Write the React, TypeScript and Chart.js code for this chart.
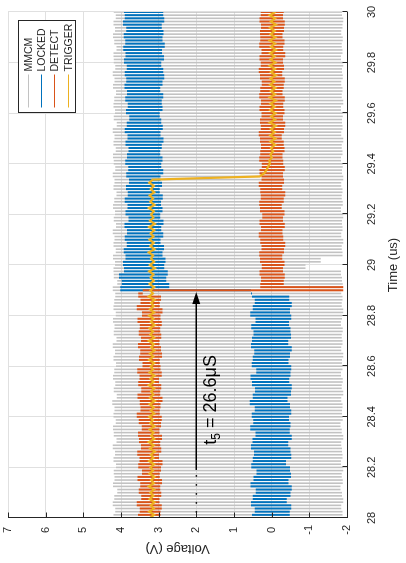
import React, { useEffect, useRef } from "react";
import { Chart, registerables } from "chart.js";
Chart.register(...registerables);

// Sampling grid of the scope capture (time in microseconds)
const SAMPLE_START = 28;
const SAMPLE_STEP = 0.0125;

const mmcm = [
  4.2, -1.88, 4.15, -1.85, 4.22, -1.9, 4.18, -1.87, 4.1, -1.83,
  4.21, -1.89, 4.17, -1.86, 4.19, -1.9, 4.13, -1.84, 4.2, -1.88,
  4.16, -1.87, 4.22, -1.85, 4.12, -1.9, 4.19, -1.86, 4.21, -1.83,
  4.14, -1.89, 4.2, -1.87, 4.17, -1.88, 4.23, -1.85, 4.11, -1.9,
  4.19, -1.86, 4.15, -1.89, 4.21, -1.84, 4.18, -1.88, 4.13, -1.87,
  4.2, -1.9, 4.16, -1.85, 4.22, -1.88, 4.12, -1.86, 4.19, -1.89,
  4.17, -1.84, 4.21, -1.87, 4.14, -1.9, 4.2, -1.86, 4.18, -1.88,
  4.15, -1.85, 4.22, -1.89, 4.1, -1.87, 4.19, -1.84, 4.2, -0.9,
  4.16, -1.3, 4.21, -1.88, 4.14, -1.86, 4.2, -1.9, 4.17, -1.85,
  4.22, -1.88, 4.13, -1.87, 4.19, -1.9, 4.16, -1.84, 4.21, -1.89,
  4.18, -1.86, 4.12, -1.88, 4.2, -1.85, 4.17, -1.9, 4.22, -1.87,
  4.15, -1.89, 4.19, -1.84, 4.21, -1.88, 4.14, -1.86, 4.2, -1.9,
  4.17, -1.85, 4.22, -1.88, 4.11, -1.87, 4.19, -1.89, 4.16, -1.84,
  4.2, -1.9, 4.18, -1.86, 4.13, -1.88, 4.21, -1.85, 4.17, -1.89,
  4.22, -1.87, 4.15, -1.9, 4.19, -1.84, 4.2, -1.88, 4.12, -1.86,
  4.18, -1.89, 4.21, -1.85, 4.16, -1.88, 4.2, -1.9, 4.14, -1.87,
  4.19,
];

const locked = [
  0.52, -0.48, 0.45, -0.52, 0.55, -0.4, 0.5, -0.5, 0.42, -0.53,
  0.56, -0.45, 0.48, -0.51, 0.4, -0.49, 0.54, -0.38, 0.5, -0.52,
  0.47, -0.5, 0.55, -0.44, 0.51, -0.53, 0.43, -0.48, 0.57, -0.5,
  0.49, -0.46, 0.53, -0.52, 0.45, -0.49, 0.58, -0.42, 0.5, -0.51,
  0.44, -0.53, 0.52, -0.47, 0.56, -0.5, 0.41, -0.52, 0.53, -0.45,
  0.5, -0.49, 0.46, -0.53, 0.55, -0.44, 0.52, -0.51, 0.48, -0.5,
  0.54, -0.46, 0.43, -0.52, 0.57, -0.49, 0.5, -0.53, 0.45, -0.47,
  0.52, 0.55, 4.02, 2.72, 3.98, 2.8, 4.05, 2.76, 3.92, 2.85,
  3.95, 2.82, 3.88, 2.9, 3.93, 2.86, 3.85, 2.95, 3.9, 2.88,
  3.84, 2.93, 3.91, 2.87, 3.8, 2.96, 3.88, 2.9, 3.83, 2.94,
  3.9, 2.89, 3.82, 2.97, 3.87, 2.91, 3.79, 2.95, 3.86, 2.88,
  3.81, 2.93, 3.89, 2.9, 3.84, 2.96, 3.8, 2.92, 3.88, 2.87,
  3.83, 2.95, 3.9, 2.89, 3.85, 2.93, 3.78, 2.97, 3.87, 2.9,
  3.82, 2.92, 3.89, 2.88, 3.84, 2.96, 3.91, 2.9, 3.86, 2.85,
  3.9, 2.88, 3.85, 2.93, 3.92, 2.86, 3.88, 2.91, 3.94, 2.84,
  3.89, 2.9, 3.93, 2.87, 3.86, 2.92, 3.95, 2.85, 3.9, 2.88,
  3.92,
];

const detect = [
  3.55, 2.95, 3.5, 2.92, 3.58, 2.98, 3.46, 2.93, 3.53, 2.96,
  3.49, 2.91, 3.56, 2.97, 3.44, 2.94, 3.54, 2.9, 3.51, 2.99,
  3.57, 2.93, 3.47, 2.96, 3.52, 2.91, 3.55, 2.98, 3.45, 2.94,
  3.53, 2.92, 3.58, 2.97, 3.48, 2.95, 3.5, 2.9, 3.56, 2.96,
  3.46, 2.93, 3.54, 2.99, 3.51, 2.92, 3.57, 2.95, 3.43, 2.97,
  3.52, 2.91, 3.49, 2.94, 3.55, 2.98, 3.47, 2.93, 3.53, 2.96,
  3.5, 2.92, 3.56, 2.95, 3.44, 2.9, 3.58, 2.97, 3.48, 2.94,
  3.54, 3.42, -1.9, 0.3, -0.32, 0.28, -0.35, 0.32, -0.3, 0.26,
  -0.34, 0.31, -0.28, 0.33, -0.33, 0.27, -0.36, 0.3, -0.31, 0.34,
  -0.29, 0.28, -0.35, 0.32, -0.3, 0.25, -0.34, 0.31, -0.27, 0.33,
  -0.32, 0.29, -0.36, 0.3, -0.28, 0.34, -0.33, 0.27, -0.3, 0.32,
  -0.35, 0.26, -0.31, 0.33, -0.29, 0.3, -0.34, 0.28, -0.32, 0.31,
  -0.27, 0.34, -0.33, 0.29, -0.36, 0.31, -0.3, 0.27, -0.34, 0.32,
  -0.31, 0.28, -0.35, 0.33, -0.29, 0.3, -0.32, 0.26, -0.35, 0.31,
  -0.28, 0.34, -0.33, 0.29, -0.3, 0.32, -0.36, 0.27, -0.31, 0.33,
  -0.34, 0.3, -0.29, 0.31, -0.33, 0.28, -0.35, 0.32, -0.3, 0.29,
  -0.32,
];

const trigger = [
  3.23, 3.12, 3.25, 3.13, 3.21, 3.11, 3.24, 3.14, 3.22, 3.12,
  3.26, 3.13, 3.2, 3.11, 3.24, 3.15, 3.22, 3.12, 3.25, 3.14,
  3.21, 3.1, 3.23, 3.13, 3.26, 3.12, 3.2, 3.14, 3.24, 3.11,
  3.22, 3.15, 3.25, 3.12, 3.21, 3.13, 3.24, 3.1, 3.23, 3.14,
  3.2, 3.12, 3.26, 3.13, 3.22, 3.11, 3.24, 3.15, 3.21, 3.12,
  3.25, 3.14, 3.23, 3.11, 3.2, 3.13, 3.26, 3.12, 3.22, 3.15,
  3.24, 3.1, 3.21, 3.14, 3.25, 3.12, 3.23, 3.13, 3.2, 3.11,
  3.26, 3.15, 3.22, 3.12, 3.24, 3.13, 3.21, 3.14, 3.25, 3.1,
  3.23, 3.12, 3.2, 3.15, 3.26, 3.11, 3.22, 3.13, 3.24, 3.14,
  3.21, 3.12, 3.25, 3.1, 3.23, 3.14, 3.2, 3.13, 3.26, 3.11,
  3.22, 3.15, 3.24, 3.12, 3.21, 3.13, 3.25, 3.16, 0.32, 0.2,
  0.14, 0.1, 0.05, 0.06, 0.0, 0.03, -0.04, 0.02, -0.09, 0.03,
  -0.1, 0.04, -0.08, 0.02, -0.11, 0.05, -0.09, 0.01, -0.1, 0.04,
  -0.08, 0.03, -0.11, 0.05, -0.09, 0.02, -0.1, 0.04, -0.07, 0.03,
  -0.11, 0.02, -0.09, 0.05, -0.1, 0.03, -0.08, 0.04, -0.11, 0.02,
  -0.09, 0.05, -0.1, 0.03, -0.08, 0.04, -0.11, 0.02, -0.09, 0.05,
  -0.1,
];

const seriesNames = ["MMCM", "LOCKED", "DETECT", "TRIGGER"];
const seriesColors = ["#c2c2c2", "#0072BD", "#D95319", "#EDB120"];
const seriesWidths = [1.6, 2, 2, 2.2];
// fast-switching signals are drawn as their transitions only
const edgeOnly = [true, true, true, false];

const timeTicks = [28, 28.2, 28.4, 28.6, 28.8, 29, 29.2, 29.4, 29.6, 29.8, 30];
const voltageTicks = [-2, -1, 0, 1, 2, 3, 4, 5, 6, 7];

// Annotation (data coordinates)
const arrowVoltage = 2;
const arrowFrom = 28.19;
const arrowTo = 28.893;
const dotsFrom = 28.02;
const noteTime = 28.29;
const noteVoltage = 1.47;

const FONT = '"Liberation Sans", Arial, Helvetica, sans-serif';
const TEXT = "#262626";

const overlay = {
  id: "overlay",
  afterDatasetsDraw(chart: any) {
    const { ctx, chartArea: a, scales } = chart;
    const x = scales.x;
    const y = scales.y;
    ctx.save();

    // axis lines + inward ticks
    ctx.strokeStyle = TEXT;
    ctx.lineWidth = 1;
    ctx.beginPath();
    const by = Math.round(a.bottom) + 0.5;
    const lx = Math.round(a.left) + 0.5;
    ctx.moveTo(a.left, by);
    ctx.lineTo(a.right, by);
    ctx.moveTo(lx, a.top);
    ctx.lineTo(lx, a.bottom);
    for (const t of timeTicks) {
      const px = Math.round(x.getPixelForValue(t)) + 0.5;
      ctx.moveTo(px, by);
      ctx.lineTo(px, by - 5);
    }
    for (const v of voltageTicks) {
      const py = Math.round(y.getPixelForValue(v)) + 0.5;
      ctx.moveTo(lx, py);
      ctx.lineTo(lx + 5, py);
    }
    ctx.stroke();

    // arrow
    const ay = y.getPixelForValue(arrowVoltage);
    const x0 = x.getPixelForValue(arrowFrom);
    const x1 = x.getPixelForValue(arrowTo);
    const head = 12;
    ctx.strokeStyle = "#000";
    ctx.fillStyle = "#000";
    ctx.lineWidth = 1.5;
    ctx.beginPath();
    ctx.moveTo(x0, ay);
    ctx.lineTo(x1 - head + 1, ay);
    ctx.stroke();
    ctx.beginPath();
    ctx.moveTo(x1, ay);
    ctx.lineTo(x1 - head, ay - 4);
    ctx.lineTo(x1 - head, ay + 4);
    ctx.closePath();
    ctx.fill();
    const xd = x.getPixelForValue(dotsFrom);
    for (let px = x0 - 6; px >= xd - 1; px -= 9) {
      ctx.beginPath();
      ctx.arc(px, ay, 0.9, 0, Math.PI * 2);
      ctx.fill();
    }

    // note text
    const nx = x.getPixelForValue(noteTime);
    const ny = y.getPixelForValue(noteVoltage);
    ctx.textBaseline = "alphabetic";
    ctx.textAlign = "left";
    ctx.font = `18px ${FONT}`;
    ctx.fillText("t", nx, ny);
    let cx = nx + ctx.measureText("t").width;
    ctx.font = `12px ${FONT}`;
    ctx.fillText("5", cx, ny + 4);
    cx += ctx.measureText("5").width;
    ctx.font = `18px ${FONT}`;
    ctx.fillText(" = 26.6\u03bcS", cx, ny);

    // legend
    const bw = 92;
    const bh = 57;
    const bx = Math.round(a.right - 9 - bw) + 0.5;
    const byy = Math.round(a.top + 10) + 0.5;
    ctx.fillStyle = "#fff";
    ctx.fillRect(bx, byy, bw, bh);
    ctx.strokeStyle = "#262626";
    ctx.lineWidth = 1;
    ctx.strokeRect(bx, byy, bw, bh);
    ctx.font = `10.5px ${FONT}`;
    ctx.textBaseline = "middle";
    seriesNames.forEach((name, i) => {
      const ry = Math.round(byy + 9 + i * 13.4) + 0.5;
      ctx.strokeStyle = seriesColors[i];
      ctx.lineWidth = 1;
      ctx.beginPath();
      ctx.moveTo(bx + 5, ry);
      ctx.lineTo(bx + 38, ry);
      ctx.stroke();
      ctx.fillStyle = TEXT;
      ctx.fillText(name, bx + 41, ry + 0.5);
    });

    ctx.restore();
  },
};

export default function App() {
  const ref = useRef<HTMLCanvasElement | null>(null);

  useEffect(() => {
    const canvas = ref.current;
    if (!canvas) return;
    const times = mmcm.map((_, i) => +(SAMPLE_START + i * SAMPLE_STEP).toFixed(4));
    const series = [mmcm, locked, detect, trigger];
    const toPoints = (vals: number[], edges: boolean) => {
      if (!edges) return vals.map((v, i) => ({ x: times[i], y: v }));
      const out: any[] = [];
      for (let i = 1; i < vals.length; i++) {
        out.push({ x: times[i], y: vals[i - 1] });
        out.push({ x: times[i], y: vals[i] });
        out.push({ x: times[i], y: null });
      }
      return out;
    };
    const chart = new Chart(canvas, {
      type: "line",
      data: {
        datasets: series.map((vals, k) => ({
          label: seriesNames[k],
          data: toPoints(vals, edgeOnly[k]),
          borderColor: seriesColors[k],
          borderWidth: seriesWidths[k],
          pointRadius: 0,
          tension: 0,
          spanGaps: false,
          fill: false,
          order: 4 - k,
        })),
      },
      options: {
        animation: false,
        responsive: false,
        devicePixelRatio: 1,
        events: [],
        layout: { padding: { top: 8, right: 12, left: 0, bottom: 0 } },
        plugins: { legend: { display: false }, tooltip: { enabled: false } },
        scales: {
          x: {
            type: "linear",
            min: 28,
            max: 30,
            afterBuildTicks: (s: any) => {
              s.ticks = timeTicks.map((v) => ({ value: v }));
            },
            afterFit: (s: any) => {
              s.height = 59;
            },
            grid: {
              color: "#e0e0e0",
              lineWidth: 1,
              drawTicks: true,
              tickLength: 17,
              tickColor: "rgba(0,0,0,0)",
            },
            border: { display: false },
            ticks: {
              padding: 1,
              maxRotation: 0,
              autoSkip: false,
              color: TEXT,
              font: { family: FONT, size: 11 },
              callback: (v: any) => String(v),
            },
            title: {
              display: true,
              text: "Time (us)",
              color: TEXT,
              font: { family: FONT, size: 13 },
              padding: { top: 0, bottom: 5 },
            },
          },
          y: {
            type: "linear",
            min: -2,
            max: 7,
            afterBuildTicks: (s: any) => {
              s.ticks = voltageTicks.map((v) => ({ value: v }));
            },
            afterFit: (s: any) => {
              s.width = 45;
            },
            grid: {
              color: "#e0e0e0",
              lineWidth: 1,
              drawTicks: true,
              tickLength: 6,
              tickColor: "rgba(0,0,0,0)",
            },
            border: { display: false },
            ticks: {
              padding: 1,
              crossAlign: "center",
              autoSkip: false,
              color: TEXT,
              font: { family: FONT, size: 11 },
              callback: (v: any) => String(v),
            },
            title: {
              display: true,
              text: "Voltage (V)",
              color: TEXT,
              font: { family: FONT, size: 13 },
              padding: { top: 7, bottom: 0 },
            },
          },
        },
      },
      plugins: [overlay],
    } as any);
    return () => chart.destroy();
  }, []);

  return (
    <div
      style={{
        position: "fixed",
        left: 0,
        top: 0,
        width: 563,
        height: 406,
        transformOrigin: "0 0",
        transform: "translateY(563px) rotate(-90deg)",
        background: "#fff",
      }}
    >
      <canvas ref={ref} width={563} height={406} style={{ display: "block" }} />
    </div>
  );
}
